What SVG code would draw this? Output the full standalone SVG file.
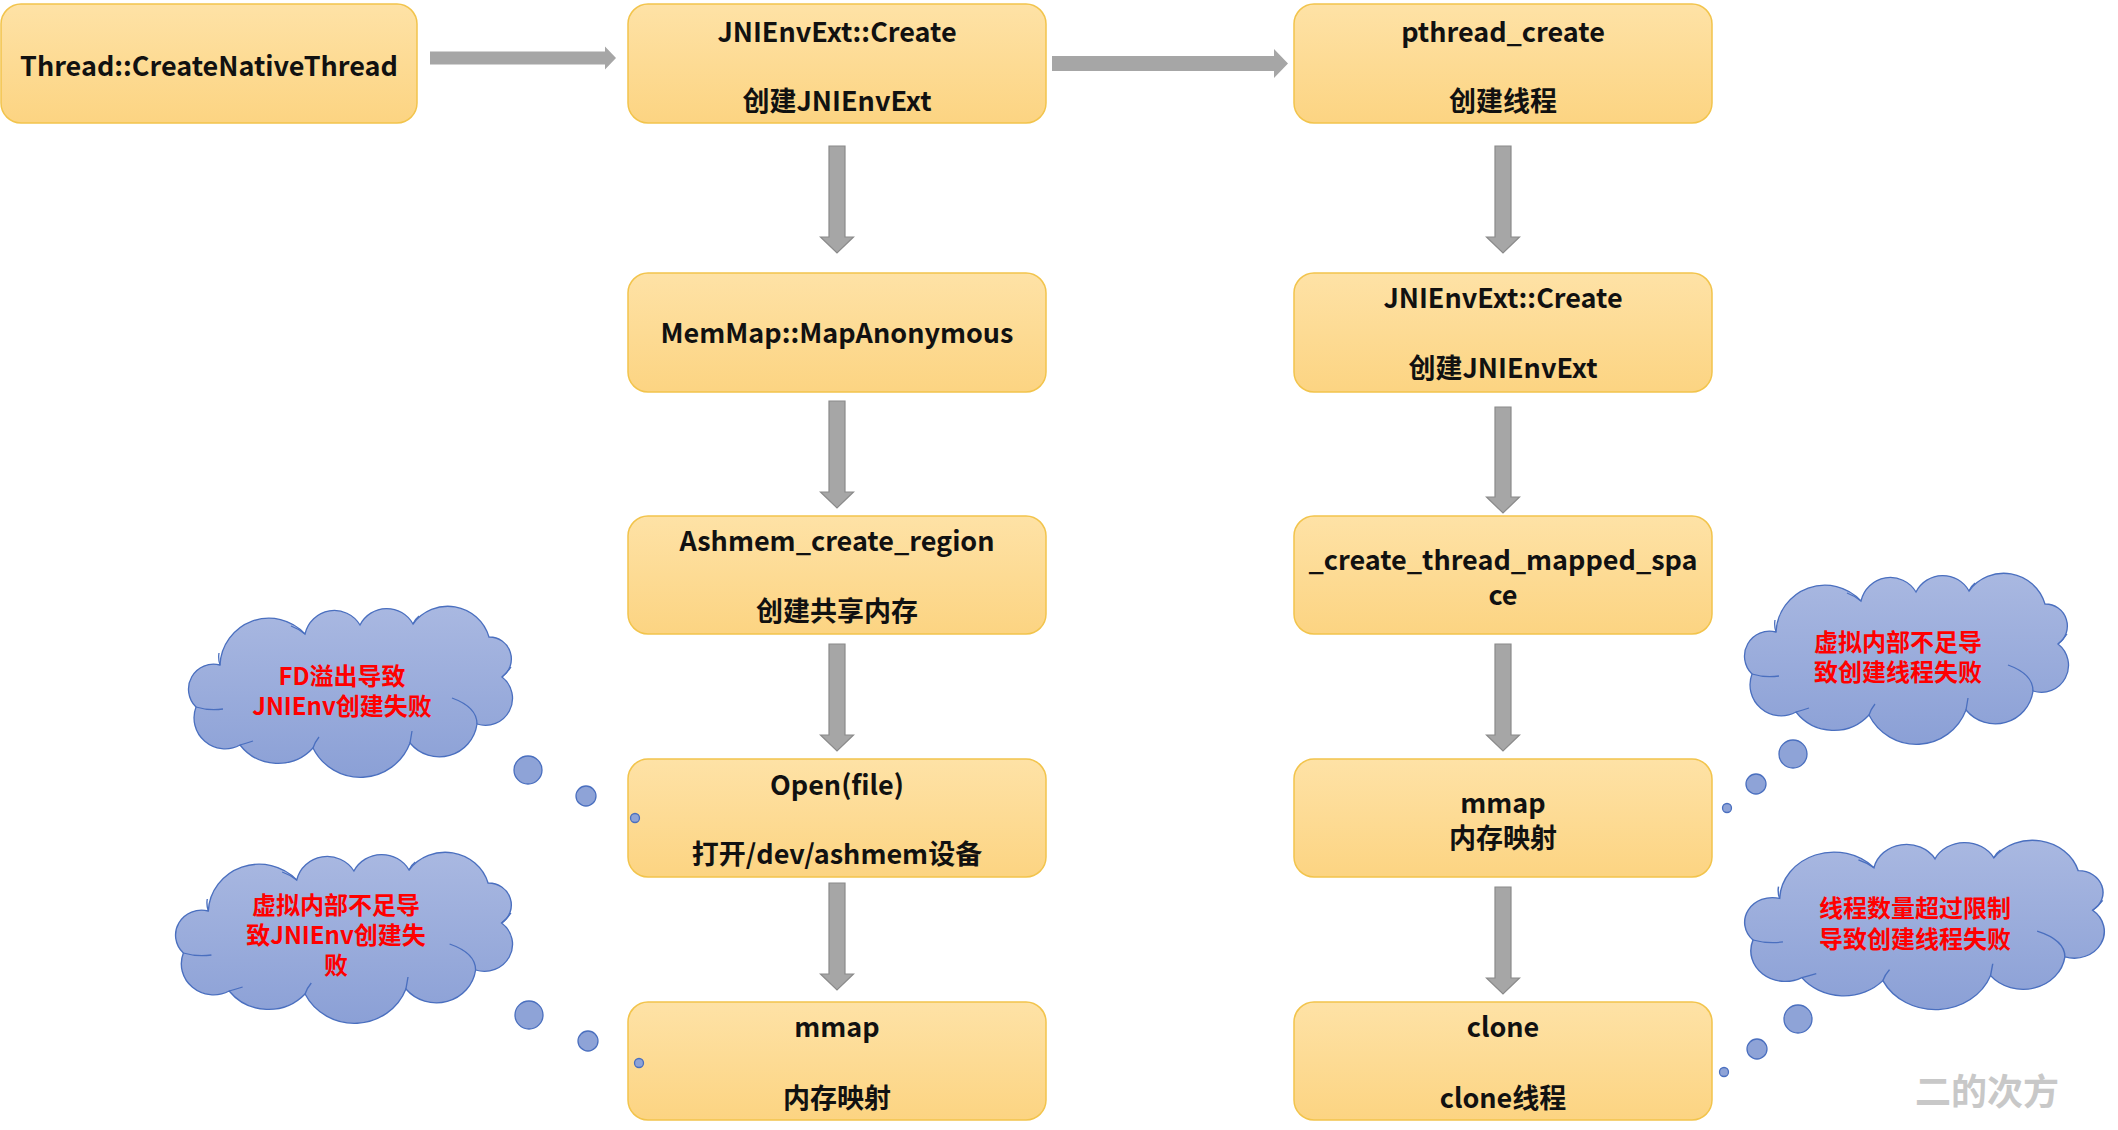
<svg xmlns="http://www.w3.org/2000/svg" xmlns:xlink="http://www.w3.org/1999/xlink" width="2118" height="1130" viewBox="0 0 2118 1130">
  <style>
    .node rect { fill: url(#nodeGrad); stroke: #F2C44C; stroke-width: 1.5; }
    .node text { font-family: "Noto Sans CJK SC", "Liberation Sans", sans-serif; font-size: 27px; font-weight: bold; fill: #111; text-anchor: middle; dominant-baseline: central; }
    .arrow { fill: #A6A6A6; stroke: #8A8A8A; stroke-width: 1.2; }
    .harrow { fill: #A6A6A6; stroke: none; }
    .cloud-body { fill: url(#cloudGrad); stroke: #4A6FBF; stroke-width: 1.3; }
    .cloud-inner { fill: none; stroke: #4A6FBF; stroke-width: 1.3; }
    .bubble { fill: #8EA3D7; stroke: #4A6FBF; stroke-width: 1.3; }
    .note text { font-family: "Noto Sans CJK SC", "Liberation Sans", sans-serif; font-size: 24px; font-weight: bold; fill: #FF0000; text-anchor: middle; dominant-baseline: central; }
    .wm { font-family: "Noto Sans CJK SC", "Liberation Sans", sans-serif; font-size: 36px; font-weight: bold; fill: #C8C8C8; text-anchor: middle; dominant-baseline: central; }
  </style>
  <defs>
    <linearGradient id="nodeGrad" x1="0" y1="0" x2="0" y2="1">
      <stop offset="0" stop-color="#FEE2A6"/>
      <stop offset="1" stop-color="#FCD482"/>
    </linearGradient>
    <linearGradient id="cloudGrad" x1="0" y1="0" x2="0" y2="1">
      <stop offset="0" stop-color="#A9B8E1"/>
      <stop offset="1" stop-color="#8BA0D6"/>
    </linearGradient>
    <g id="cloud">
      <path class="cloud-body" d="M33 58 A49 49 0 0 1 118 27 A30 30 0 0 1 173 18 A30 30 0 0 1 226 17 A43 43 0 0 1 302 30 A22 22 0 0 1 315 70 A27 27 0 0 1 290 117 A38 38 0 0 1 223 136 A53 53 0 0 1 126 141 A48 48 0 0 1 53 138 A31 31 0 0 1 9 100 A25 25 0 0 1 33 58 Z"/>
      <path class="cloud-inner" d="M9 100 Q22 104 36 102 M33 58 Q31 52 32 46 M118 27 Q112 22 104 19 M226 17 Q228 12 232 9 M315 70 Q320 66 324 60 M290 117 Q290 100 265 91 M223 136 Q224 130 225 124 M126 141 Q128 135 132 130 M53 138 Q60 136 66 134"/>
    </g>
  </defs>
  <rect width="2118" height="1130" fill="#FFFFFF"/>

  <g id="connectors">
    <polygon class="harrow" points="430,51.5 605,51.5 605,46.5 616,58 605,69.5 605,64.5 430,64.5"/>
    <polygon class="harrow" points="1052,56 1274,56 1274,49 1288,63.5 1274,78 1274,71 1052,71"/>
    <polygon class="arrow" points="829,146 845,146 845,237 853.5,237 837,253 820.5,237 829,237"/>
    <polygon class="arrow" points="829,401 845,401 845,492 853.5,492 837,508 820.5,492 829,492"/>
    <polygon class="arrow" points="829,644 845,644 845,735 853.5,735 837,751 820.5,735 829,735"/>
    <polygon class="arrow" points="829,883 845,883 845,974 853.5,974 837,990 820.5,974 829,974"/>
    <polygon class="arrow" points="1495,146 1511,146 1511,237 1519.5,237 1503,253 1486.5,237 1495,237"/>
    <polygon class="arrow" points="1495,407 1511,407 1511,497 1519.5,497 1503,513 1486.5,497 1495,497"/>
    <polygon class="arrow" points="1495,644 1511,644 1511,735 1519.5,735 1503,751 1486.5,735 1495,735"/>
    <polygon class="arrow" points="1495,887 1511,887 1511,978 1519.5,978 1503,994 1486.5,978 1495,978"/>
  </g>

  <g id="node-create-native-thread" class="node">
    <rect x="1" y="4" width="416" height="119" rx="20"/>
    <text x="209" y="64">Thread::CreateNativeThread</text>
  </g>
  <g id="node-jnienvext-create-1" class="node">
    <rect x="628" y="4" width="418" height="119" rx="20"/>
    <text x="837" y="30">JNIEnvExt::Create</text>
    <text x="837" y="99">创建JNIEnvExt</text>
  </g>
  <g id="node-pthread-create" class="node">
    <rect x="1294" y="4" width="418" height="119" rx="20"/>
    <text x="1503" y="30">pthread_create</text>
    <text x="1503" y="99">创建线程</text>
  </g>
  <g id="node-memmap" class="node">
    <rect x="628" y="273" width="418" height="119" rx="20"/>
    <text x="837" y="331">MemMap::MapAnonymous</text>
  </g>
  <g id="node-jnienvext-create-2" class="node">
    <rect x="1294" y="273" width="418" height="119" rx="20"/>
    <text x="1503" y="296">JNIEnvExt::Create</text>
    <text x="1503" y="366">创建JNIEnvExt</text>
  </g>
  <g id="node-ashmem" class="node">
    <rect x="628" y="516" width="418" height="118" rx="20"/>
    <text x="837" y="539">Ashmem_create_region</text>
    <text x="837" y="609">创建共享内存</text>
  </g>
  <g id="node-create-thread-mapped-space" class="node">
    <rect x="1294" y="516" width="418" height="118" rx="20"/>
    <text x="1503" y="558">_create_thread_mapped_spa<tspan x="1503" dy="35">ce</tspan></text>
  </g>
  <g id="node-open-file" class="node">
    <rect x="628" y="759" width="418" height="118" rx="20"/>
    <text x="837" y="783">Open(file)</text>
    <text x="837" y="852">打开/dev/ashmem设备</text>
  </g>
  <g id="node-mmap-right" class="node">
    <rect x="1294" y="759" width="418" height="118" rx="20"/>
    <text x="1503" y="801">mmap<tspan x="1503" dy="35">内存映射</tspan></text>
  </g>
  <g id="node-mmap-left" class="node">
    <rect x="628" y="1002" width="418" height="118" rx="20"/>
    <text x="837" y="1025">mmap</text>
    <text x="837" y="1096">内存映射</text>
  </g>
  <g id="node-clone" class="node">
    <rect x="1294" y="1002" width="418" height="118" rx="20"/>
    <text x="1503" y="1025">clone</text>
    <text x="1503" y="1096">clone线程</text>
  </g>

  <g id="note-fd-overflow" class="note">
    <use xlink:href="#cloud" href="#cloud" transform="translate(187,607)"/>
    <circle class="bubble" cx="528" cy="770" r="14"/>
    <circle class="bubble" cx="586" cy="796" r="10"/>
    <circle class="bubble" cx="635" cy="818" r="4.5"/>
    <text x="342" y="674">FD溢出导致<tspan x="342" dy="30">JNIEnv创建失败</tspan></text>
  </g>
  <g id="note-vm-jnienv" class="note">
    <use xlink:href="#cloud" href="#cloud" transform="translate(174,853) scale(1.04,1)"/>
    <circle class="bubble" cx="529" cy="1015" r="14"/>
    <circle class="bubble" cx="588" cy="1041" r="10"/>
    <circle class="bubble" cx="639" cy="1063" r="4.5"/>
    <text x="336" y="903">虚拟内部不足导<tspan x="336" dy="30">致JNIEnv创建失</tspan><tspan x="336" dy="30">败</tspan></text>
  </g>
  <g id="note-vm-thread" class="note">
    <use xlink:href="#cloud" href="#cloud" transform="translate(1743,574)"/>
    <circle class="bubble" cx="1793" cy="754" r="14"/>
    <circle class="bubble" cx="1756" cy="784" r="10"/>
    <circle class="bubble" cx="1727" cy="808" r="4.5"/>
    <text x="1898" y="640">虚拟内部不足导<tspan x="1898" dy="30">致创建线程失败</tspan></text>
  </g>
  <g id="note-thread-limit" class="note">
    <use xlink:href="#cloud" href="#cloud" transform="translate(1743,841) scale(1.11,0.99)"/>
    <circle class="bubble" cx="1798" cy="1019" r="14"/>
    <circle class="bubble" cx="1757" cy="1049" r="10"/>
    <circle class="bubble" cx="1724" cy="1072" r="4.5"/>
    <text x="1915" y="906">线程数量超过限制<tspan x="1915" dy="31">导致创建线程失败</tspan></text>
  </g>

  <text class="wm" x="1987" y="1089">二的次方</text>
</svg>
